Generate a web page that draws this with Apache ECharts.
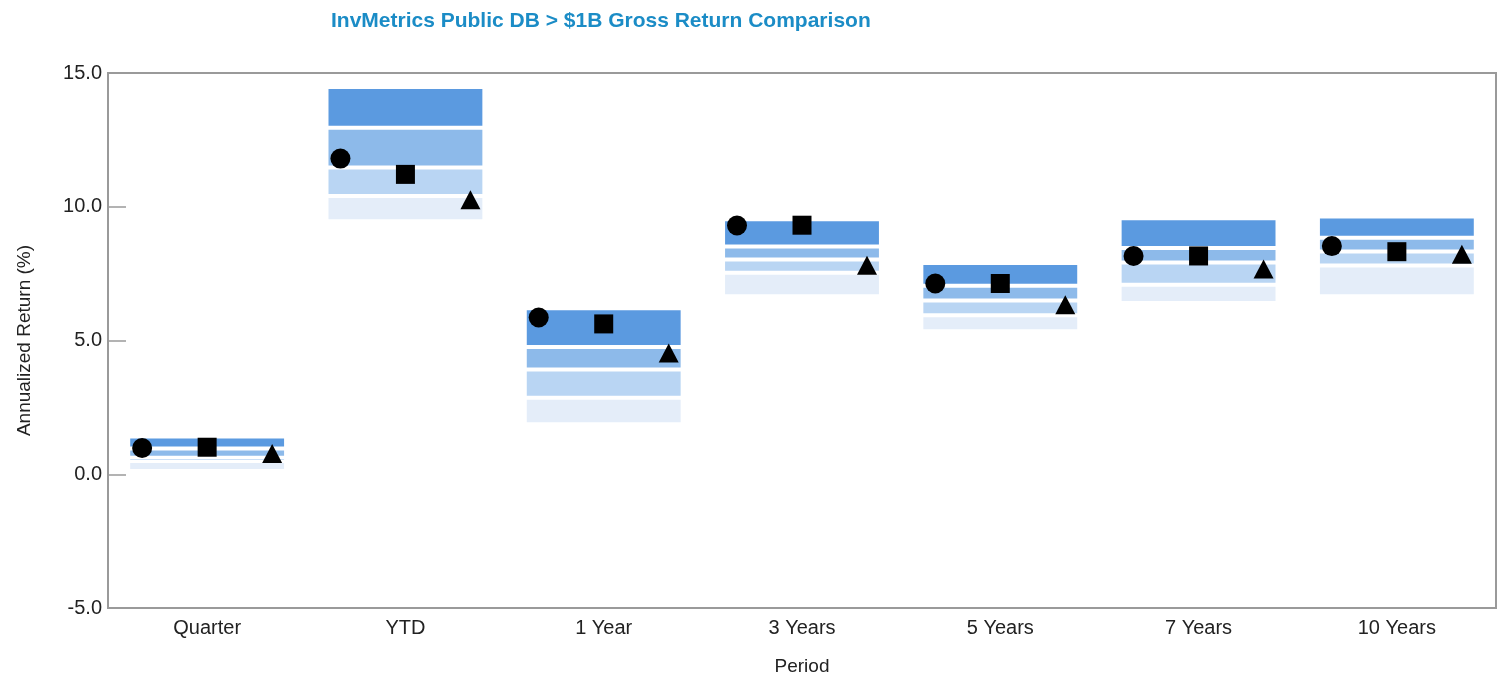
<!DOCTYPE html>
<html>
<head>
<meta charset="utf-8">
<script src="https://cdn.jsdelivr.net/npm/echarts@6/dist/echarts.min.js"></script>
<style>
  html, body { margin: 0; padding: 0; background: #fff; }
  #chart { width: 1504px; height: 681px; }
</style>
</head>
<body>
<div id="chart"></div>
<script>
var periods = ['Quarter', 'YTD', '1 Year', '3 Years', '5 Years', '7 Years', '10 Years']

// universe percentiles (5th, 25th, median, 75th, 95th)
var p5 = [1.34, 14.40, 6.13, 9.46, 7.82, 9.50, 9.56]
var p25 = [0.96, 12.95, 4.76, 8.51, 7.05, 8.46, 8.84]
var p50 = [0.62, 11.47, 3.92, 8.03, 6.50, 7.92, 8.33]
var p75 = [0.50, 10.40, 2.86, 7.53, 5.94, 7.08, 7.80]
var p95 = [0.20, 9.53, 1.94, 6.73, 5.42, 6.48, 6.73]

// fund returns
var circleVals = [0.98, 11.80, 5.86, 9.30, 7.13, 8.16, 8.53]
var squareVals = [1.01, 11.21, 5.62, 9.31, 7.13, 8.16, 8.32]
var triangleVals = [0.78, 10.26, 4.53, 7.81, 6.34, 7.67, 8.22]

var bandColors = ['#5b9ae0', '#8dbaea', '#b9d5f3', '#e4edf9']

var bandData = periods.map(function (p, i) {
  return [i, p5[i], p25[i], p50[i], p75[i], p95[i]]
})

var chart = echarts.init(document.getElementById('chart'))

var renderBands = function (params, api) {
  var idx = api.value(0)
  var w = api.size([1, 0])[0] * 0.776
  var cx = api.coord([idx, 0])[0]
  var children = []
  for (var b = 0; b < 4; b++) {
    var hi = api.coord([idx, api.value(b + 1)])[1]
    var lo = api.coord([idx, api.value(b + 2)])[1]
    if (b > 0) hi += 2
    if (b < 3) lo -= 2
    children.push({
      type: 'rect',
      shape: { x: cx - w / 2, y: hi, width: w, height: lo - hi },
      style: { fill: bandColors[b] }
    })
  }
  return { type: 'group', children: children }
}

var markerSeries = function (name, symbol, size, offset, vals) {
  return {
    name: name,
    type: 'scatter',
    symbol: symbol,
    symbolSize: size,
    symbolOffset: offset,
    itemStyle: { color: '#000', opacity: 1 },
    z: 5,
    data: vals
  }
}

chart.setOption({
  animation: false,
  title: {
    text: 'InvMetrics Public DB > $1B Gross Return Comparison',
    left: 326,
    top: 6,
    textStyle: {
      fontFamily: 'Liberation Sans',
      fontWeight: 'bold',
      fontSize: 21,
      color: '#1b8cc6'
    }
  },
  grid: {
    left: 108,
    right: 8,
    top: 73,
    bottom: 72,
    show: true,
    borderColor: '#9a9a9a',
    borderWidth: 2
  },
  xAxis: {
    type: 'category',
    data: periods,
    name: 'Period',
    nameLocation: 'middle',
    nameGap: 49,
    nameTextStyle: { fontFamily: 'Liberation Sans', fontSize: 19, color: '#222' },
    axisLine: { onZero: false, lineStyle: { color: '#9a9a9a', width: 2 } },
    axisTick: { show: false },
    axisLabel: { fontFamily: 'Liberation Sans', fontSize: 20, color: '#222', margin: 10 }
  },
  yAxis: {
    type: 'value',
    min: -5,
    max: 15,
    interval: 5,
    name: 'Annualized Return (%)',
    nameLocation: 'middle',
    nameGap: 74,
    nameTextStyle: { fontFamily: 'Liberation Sans', fontSize: 19, color: '#222' },
    axisLine: { show: true, lineStyle: { color: '#9a9a9a', width: 2 } },
    axisTick: { show: true, inside: true, length: 18, lineStyle: { color: '#9a9a9a', width: 1.5 } },
    splitLine: { show: false },
    axisLabel: {
      fontFamily: 'Liberation Sans',
      fontSize: 20,
      color: '#222',
      margin: 6,
      formatter: function (v) { return v.toFixed(1) }
    }
  },
  series: [
    {
      type: 'custom',
      renderItem: renderBands,
      encode: { x: 0, y: [1, 2, 3, 4, 5] },
      data: bandData,
      z: 2
    },
    markerSeries('Circle', 'circle', 20, [-65, 0], circleVals),
    markerSeries('Square', 'rect', 19, [0, 0], squareVals),
    markerSeries('Triangle', 'triangle', [20, 19], [65, 0], triangleVals)
  ]
})
</script>
</body>
</html>
